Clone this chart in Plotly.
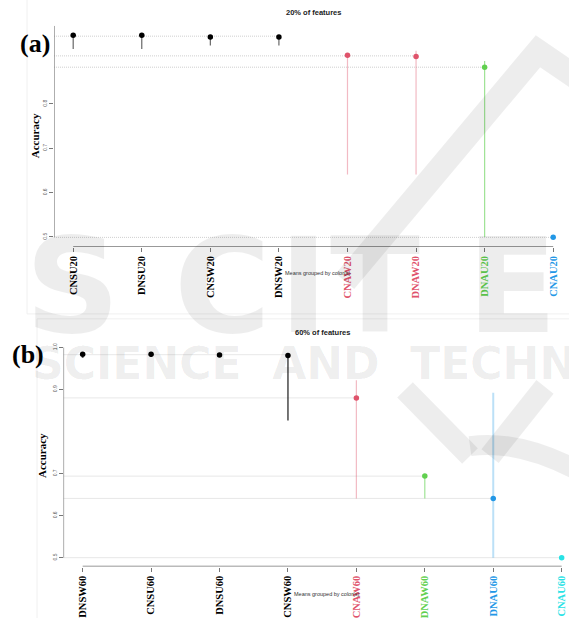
import plotly.graph_objects as go

# ---- data: panel (a), 20% of features ----
cats_a = ["CNSU20", "DNSU20", "CNSW20", "DNSW20", "CNAW20", "DNAW20", "DNAU20", "CNAU20"]
mean_a = [0.955, 0.955, 0.951, 0.951, 0.910, 0.907, 0.883, 0.499]
low_a = [0.924, 0.924, 0.932, 0.932, 0.641, 0.641, 0.500, 0.499]
high_a = [0.957, 0.957, 0.953, 0.953, 0.912, 0.920, 0.897, 0.499]
group_a = [0, 0, 0, 0, 1, 1, 2, 3]
yticks_a = [0.5, 0.6, 0.7, 0.8]

# ---- data: panel (b), 60% of features ----
cats_b = ["DNSW60", "CNSU60", "DNSU60", "CNSW60", "CNAW60", "DNAW60", "DNAU60", "CNAU60"]
mean_b = [0.984, 0.984, 0.982, 0.981, 0.880, 0.694, 0.641, 0.500]
low_b = [0.975, 0.977, 0.978, 0.826, 0.641, 0.641, 0.500, 0.500]
high_b = [0.985, 0.985, 0.983, 0.982, 0.922, 0.696, 0.892, 0.500]
group_b = [0, 0, 0, 0, 1, 2, 3, 4]
yticks_b = [0.5, 0.6, 0.7, 0.9, 1.0]

# R default palette
palette = ["#000000", "#DF536B", "#61D04F", "#2297E6", "#28E2E5"]
bar_alpha = [0.6, 0.4, 0.6, 0.3, 0.4]

W, H = 569, 618


def hex_rgba(h, a):
    h = h.lstrip("#")
    r, g, b = int(h[0:2], 16), int(h[2:4], 16), int(h[4:6], 16)
    return f"rgba({r},{g},{b},{a})"


def px(x):
    return x / W


def py(y):
    return 1 - y / H


fig = go.Figure()

panels = [
    dict(cats=cats_a, mean=mean_a, low=low_a, high=high_a, grp=group_a,
         xa="x", ya="y", xlim=[0.72, 0.72 + (569 - 54) / 68.57],
         ylim=[0.4778, 0.9767], xdom=[px(54), 1.0], ydom=[py(250), py(26)],
         yticks=yticks_a, ytop=0.9767),
    dict(cats=cats_b, mean=mean_b, low=low_b, high=high_b, grp=group_b,
         xa="x2", ya="y2", xlim=[0.72, 0.72 + (569 - 63.5) / 68.43],
         ylim=[0.47887, 1.00939], xdom=[px(63.5), 1.0], ydom=[py(574), py(348)],
         yticks=yticks_b, ytop=1.0),
]

shapes = []
for p in panels:
    n = len(p["cats"])
    xs = list(range(1, n + 1))
    groups = sorted(set(p["grp"]))
    # dotted lines at each colour group's mean, from the y axis to the group's last member
    for g in groups:
        idx = [i for i in range(n) if p["grp"][i] == g]
        gm = sum(p["mean"][i] for i in idx) / len(idx)
        fig.add_trace(go.Scatter(
            x=[p["xlim"][0], xs[idx[-1]]], y=[gm, gm], mode="lines",
            line=dict(color="#cfcfcf", width=1, dash="1px,1px"),
            xaxis=p["xa"], yaxis=p["ya"], showlegend=False, hoverinfo="skip"))
    # intervals and means, one trace per colour group
    for g in groups:
        idx = [i for i in range(n) if p["grp"][i] == g]
        thick = 1.2
        if g == 3 and p["xa"] == "x2":
            thick = 2
        if g == 0 and p["xa"] == "x2":
            thick = 1.8
        fig.add_trace(go.Scatter(
            x=[xs[i] for i in idx], y=[p["mean"][i] for i in idx], mode="markers",
            marker=dict(color=palette[g], size=5.5),
            error_y=dict(type="data", symmetric=False,
                         array=[p["high"][i] - p["mean"][i] for i in idx],
                         arrayminus=[p["mean"][i] - p["low"][i] for i in idx],
                         color=hex_rgba(palette[g], bar_alpha[g]),
                         thickness=thick, width=0),
            xaxis=p["xa"], yaxis=p["ya"], showlegend=False))
    # axis lines drawn in data coordinates
    shapes.append(dict(type="line", xref=p["xa"], yref=p["ya"],
                       x0=1, x1=n, y0=p["ylim"][0], y1=p["ylim"][0],
                       line=dict(color="#777777", width=1.5)))
    shapes.append(dict(type="line", xref=p["xa"], yref=p["ya"],
                       x0=p["xlim"][0], x1=p["xlim"][0], y0=0.5, y1=p["ytop"],
                       line=dict(color="#777777", width=1.2)))

ticktext_a = [f"<span style='color:{palette[g]}'><b>{c}</b></span>" for c, g in zip(cats_a, group_a)]
ticktext_b = [f"<span style='color:{palette[g]}'><b>{c}</b></span>" for c, g in zip(cats_b, group_b)]

xaxis_common = dict(showgrid=False, zeroline=False, showline=False, ticks="outside",
                    ticklen=4, tickwidth=1.2, tickcolor="#777777", tickangle=-90,
                    tickfont=dict(family="Liberation Serif", size=10.5), tickmode="array")
yaxis_common = dict(showgrid=False, zeroline=False, showline=False, ticks="outside",
                    ticklen=4, tickwidth=1, tickcolor="#777777", tickangle=-90,
                    tickfont=dict(family="Liberation Sans", size=5, color="#555555"),
                    tickmode="array")

fig.update_layout(
    width=W, height=H, margin=dict(l=0, r=0, t=0, b=0),
    paper_bgcolor="white", plot_bgcolor="rgba(0,0,0,0)",
    xaxis=dict(xaxis_common, domain=panels[0]["xdom"], range=panels[0]["xlim"],
               tickvals=list(range(1, 9)), ticktext=ticktext_a, anchor="y"),
    yaxis=dict(yaxis_common, domain=panels[0]["ydom"], range=panels[0]["ylim"],
               tickvals=yticks_a, ticktext=[f"{v:.1f}" for v in yticks_a], anchor="x"),
    xaxis2=dict(xaxis_common, domain=panels[1]["xdom"], range=panels[1]["xlim"],
                tickvals=list(range(1, 9)), ticktext=ticktext_b, anchor="y2"),
    yaxis2=dict(yaxis_common, domain=panels[1]["ydom"], range=panels[1]["ylim"],
                tickvals=yticks_b, ticktext=[f"{v:.1f}" for v in yticks_b], anchor="x2"),
)

# faint frames around each panel
shapes.append(dict(type="rect", xref="paper", yref="paper", x0=px(27), x1=px(600),
                   y0=py(318), y1=py(-5), line=dict(color="#f0f0f0", width=1), layer="below"))
shapes.append(dict(type="rect", xref="paper", yref="paper", x0=px(37), x1=px(600),
                   y0=py(640), y1=py(323), line=dict(color="#f0f0f0", width=1), layer="below"))

# publisher watermark strokes
wm = "rgba(0,0,0,0.07)"


def path(pts):
    return "M " + " L ".join(f"{px(x):.4f},{py(y):.4f}" for x, y in pts)


shapes.append(dict(type="path", xref="paper", yref="paper",
                   path=path([(345, 285), (538, 52), (600, 95)]),
                   line=dict(color=wm, width=24)))
shapes.append(dict(type="path", xref="paper", yref="paper",
                   path=path([(405, 395), (470, 462)]), line=dict(color=wm, width=22)))
shapes.append(dict(type="path", xref="paper", yref="paper",
                   path=path([(545, 392), (490, 462)]), line=dict(color=wm, width=22)))
shapes.append(dict(type="path", xref="paper", yref="paper",
                   path=f"M {px(470):.4f},{py(452):.4f} Q {px(520):.4f},{py(445):.4f} {px(580):.4f},{py(478):.4f}",
                   line=dict(color=wm, width=20)))

annotations = []
for ch, cx in zip("SCITE", [72, 222, 303, 375, 512]):
    annotations.append(dict(text=f"<b>{ch}</b>", x=px(cx), y=py(290), xref="paper", yref="paper",
                            showarrow=False, xanchor="center", yanchor="middle",
                            font=dict(family="DejaVu Sans", size=132, color=wm)))
annotations.append(dict(text="<b>SCIENCE  AND  TECHNOLOGY</b>", x=px(30), y=py(368), xref="paper",
                        yref="paper", showarrow=False, xanchor="left", yanchor="middle",
                        font=dict(family="DejaVu Sans", size=44, color=wm)))

# panel labels, titles and axis titles
annotations += [
    dict(text="<b>(a)</b>", x=px(35), y=py(44), font=dict(family="Liberation Serif", size=26, color="black")),
    dict(text="<b>(b)</b>", x=px(28), y=py(359), font=dict(family="Liberation Serif", size=26, color="black")),
    dict(text="<b>20% of features</b>", x=px(313), y=py(13), font=dict(family="Liberation Sans", size=7.5, color="#222")),
    dict(text="<b>60% of features</b>", x=px(322), y=py(337), font=dict(family="Liberation Sans", size=7.5, color="#222")),
    dict(text="<b>Accuracy</b>", x=px(35), y=py(138), textangle=-90, font=dict(family="Liberation Serif", size=11, color="black")),
    dict(text="<b>Accuracy</b>", x=px(42), y=py(462), textangle=-90, font=dict(family="Liberation Serif", size=11, color="black")),
    dict(text="Means grouped by color(s)", x=px(283), y=py(277), xanchor="left", font=dict(family="Liberation Sans", size=5.5, color="#333")),
    dict(text="Means grouped by color(s)", x=px(292), y=py(602), xanchor="left", font=dict(family="Liberation Sans", size=5.5, color="#333")),
]
for a in annotations[-8:]:
    a.update(xref="paper", yref="paper", showarrow=False)
    a.setdefault("xanchor", "center")
    a.setdefault("yanchor", "middle")

fig.update_layout(shapes=shapes, annotations=annotations)
fig.write_html("out.html")
